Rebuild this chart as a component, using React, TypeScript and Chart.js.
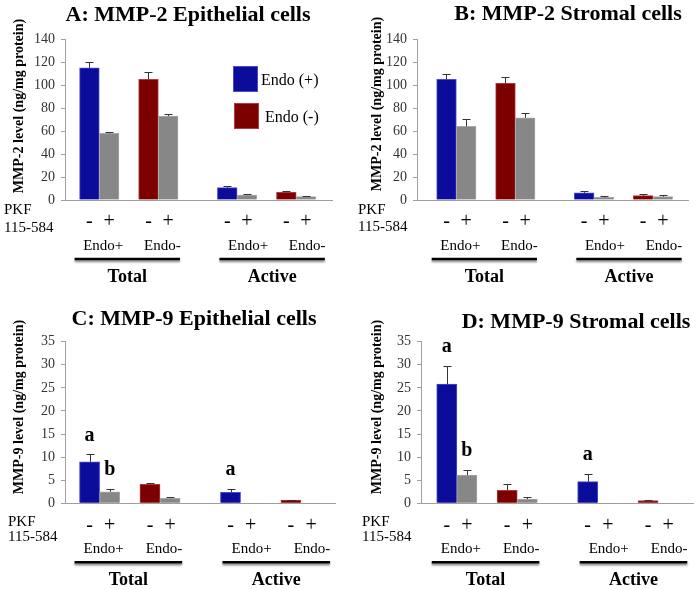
import React, { useEffect, useRef } from 'react';
import { Chart, registerables } from 'chart.js';

Chart.register(...registerables);

const SERIF = '"Liberation Serif", "Times New Roman", serif';

// ---- shared category structure ----
const sectionLabels = ['Total', 'Active'];
const groupLabels = ['Endo+', 'Endo-', 'Endo+', 'Endo-'];
const treatmentLabels = ['-', '+', '-', '+', '-', '+', '-', '+'];
const pkfLines = ['PKF', '115-584'];
const legendLabels = ['Endo (+)', 'Endo (-)'];

// ---- values (ng/mg protein) and upper error bars ----
const mmp2EpiValues = [115, 58, 105, 73, 10.7, 4.3, 6.7, 2.9];
const mmp2EpiErrors = [5, 1, 6.5, 1.5, 1.7, 0.6, 1.4, 0.9];
const mmp2StromaValues = [105, 64, 101.5, 71.5, 6.2, 2.3, 3.8, 2.9];
const mmp2StromaErrors = [5, 6.5, 5.5, 4.5, 1.5, 1.5, 1.4, 1.4];
const mmp9EpiValues = [9.0, 2.5, 4.1, 1.1, 2.4, 0, 0.7, 0];
const mmp9EpiErrors = [1.6, 0.6, 0.4, 0.2, 0.7, 0, 0.1, 0];
const mmp9StromaValues = [25.8, 6.1, 2.8, 0.9, 4.7, 0, 0.6, 0];
const mmp9StromaErrors = [3.9, 1.1, 1.4, 0.5, 1.6, 0, 0.15, 0];
const mmp9EpiLetters = ['a', 'b', '', '', 'a', '', '', ''];
const mmp9StromaLetters = ['a', 'b', '', '', 'a', '', '', ''];

// ---- styling / layout (not data) ----
const BLUE = '#0c0c9a';
const RED = '#7d0000';
const GRAY = '#878787';
const BLUE_EDGE = '#4a4ad0';
const RED_EDGE = '#b03a3a';
const GRAY_EDGE = '#a8a8a8';
const AXIS = '#a0a0a0';
const gapsBefore = [0, 0, 1, 0, 2, 0, 1, 0];

const barSlots: number[] = [];
{
  let s = -1;
  gapsBefore.forEach((g) => {
    s += g + 1;
    barSlots.push(s);
  });
}
const nSlots = barSlots[barSlots.length - 1] + 1;

type PanelCfg = {
  title: string;
  yTitle: string;
  values: number[];
  errors: number[];
  letters?: string[];
  yMax: number;
  yStep: number;
  box: { x: number; y: number; w: number; h: number };
  area: { left: number; right: number; top: number; bottom: number };
  padL: number;
  padR: number;
  titlePos: [number, number];
  yTitlePos: [number, number];
  pkfX: number;
  pkfY: [number, number];
  legend?: boolean;
};

const panels: PanelCfg[] = [
  {
    title: 'A: MMP-2 Epithelial cells',
    yTitle: 'MMP-2 level (ng/mg protein)',
    values: mmp2EpiValues,
    errors: mmp2EpiErrors,
    yMax: 140,
    yStep: 20,
    box: { x: 0, y: 0, w: 349, h: 290 },
    area: { left: 65, right: 332, top: 39, bottom: 200 },
    padL: 0.74,
    padR: 0.82,
    titlePos: [188, 15],
    yTitlePos: [19, 106],
    pkfX: 4,
    pkfY: [210, 228],
    legend: true,
  },
  {
    title: 'B: MMP-2 Stromal cells',
    yTitle: 'MMP-2 level (ng/mg protein)',
    values: mmp2StromaValues,
    errors: mmp2StromaErrors,
    yMax: 140,
    yStep: 20,
    box: { x: 349, y: 0, w: 349, h: 290 },
    area: { left: 68, right: 339, top: 39, bottom: 200 },
    padL: 1.0,
    padR: 0.78,
    titlePos: [219, 14],
    yTitlePos: [28, 104],
    pkfX: 9,
    pkfY: [210, 227],
  },
  {
    title: 'C: MMP-9 Epithelial cells',
    yTitle: 'MMP-9 level (ng/mg protein)',
    values: mmp9EpiValues,
    errors: mmp9EpiErrors,
    letters: mmp9EpiLetters,
    yMax: 35,
    yStep: 5,
    box: { x: 0, y: 290, w: 349, h: 300 },
    area: { left: 65, right: 335, top: 51.7, bottom: 213.3 },
    padL: 0.72,
    padR: 0.69,
    titlePos: [194, 29],
    yTitlePos: [19, 117],
    pkfX: 8,
    pkfY: [232, 247],
  },
  {
    title: 'D: MMP-9 Stromal cells',
    yTitle: 'MMP-9 level (ng/mg protein)',
    values: mmp9StromaValues,
    errors: mmp9StromaErrors,
    letters: mmp9StromaLetters,
    yMax: 35,
    yStep: 5,
    box: { x: 349, y: 290, w: 349, h: 300 },
    area: { left: 72, right: 344, top: 51.7, bottom: 213.3 },
    padL: 0.78,
    padR: 0.73,
    titlePos: [227, 32],
    yTitlePos: [28, 117],
    pkfX: 13,
    pkfY: [232, 247],
  },
];

function barColor(i: number) {
  if (treatmentLabels[i] === '+') return GRAY;
  return groupLabels[Math.floor(i / 2)] === 'Endo+' ? BLUE : RED;
}
function barEdge(i: number) {
  if (treatmentLabels[i] === '+') return GRAY_EDGE;
  return groupLabels[Math.floor(i / 2)] === 'Endo+' ? BLUE_EDGE : RED_EDGE;
}

function makePlugin(cfg: PanelCfg) {
  return {
    id: 'panelAnnot',
    afterDatasetsDraw(chart: any) {
      const ctx = chart.ctx;
      const xs = chart.scales.x;
      const ys = chart.scales.y;
      ctx.save();
      ctx.strokeStyle = '#333';
      ctx.lineWidth = 1;
      cfg.values.forEach((v, i) => {
        const e = cfg.errors[i];
        if (!e) return;
        const x = Math.round(xs.getPixelForValue(barSlots[i])) + 0.5;
        const y0 = ys.getPixelForValue(v);
        const y1 = Math.round(ys.getPixelForValue(v + e)) + 0.5;
        ctx.beginPath();
        ctx.moveTo(x, y0);
        ctx.lineTo(x, y1);
        ctx.moveTo(x - 4, y1);
        ctx.lineTo(x + 4, y1);
        ctx.stroke();
      });
      // significance letters
      if (cfg.letters) {
        ctx.fillStyle = '#000';
        ctx.font = `bold 20px ${SERIF}`;
        ctx.textAlign = 'center';
        ctx.textBaseline = 'middle';
        cfg.letters.forEach((l, i) => {
          if (!l) return;
          const x = xs.getPixelForValue(barSlots[i]);
          const y = ys.getPixelForValue(cfg.values[i] + cfg.errors[i]) - 19;
          ctx.fillText(l, x, y);
        });
      }
      ctx.restore();
    },
    afterDraw(chart: any) {
      const ctx = chart.ctx;
      const xs = chart.scales.x;
      const bottom = chart.chartArea.bottom;
      const slotW = xs.getPixelForValue(1) - xs.getPixelForValue(0);
      ctx.save();
      ctx.fillStyle = '#000';
      ctx.textAlign = 'center';
      ctx.textBaseline = 'middle';
      // title
      ctx.font = `bold 22px ${SERIF}`;
      ctx.fillText(cfg.title, cfg.titlePos[0], cfg.titlePos[1]);
      // y title
      ctx.save();
      ctx.translate(cfg.yTitlePos[0], cfg.yTitlePos[1]);
      ctx.rotate(-Math.PI / 2);
      ctx.font = `bold 14px ${SERIF}`;
      ctx.fillText(cfg.yTitle, 0, 0);
      ctx.restore();
      // PKF label
      ctx.textAlign = 'left';
      ctx.font = `15px ${SERIF}`;
      pkfLines.forEach((t, k) => ctx.fillText(t, cfg.pkfX, cfg.pkfY[k]));
      // - / + under each bar
      ctx.textAlign = 'center';
      ctx.font = `20px ${SERIF}`;
      treatmentLabels.forEach((t, i) => {
        ctx.fillText(t, xs.getPixelForValue(barSlots[i]), bottom + 22);
      });
      // group labels
      ctx.font = `15px ${SERIF}`;
      groupLabels.forEach((g, gi) => {
        const c = (xs.getPixelForValue(barSlots[gi * 2]) + xs.getPixelForValue(barSlots[gi * 2 + 1])) / 2;
        ctx.fillText(g, c + (gi < 2 ? 4 : 11), bottom + 46);
      });
      // section underline and labels
      sectionLabels.forEach((s, si) => {
        const first = barSlots[si * 4];
        const last = barSlots[si * 4 + 3];
        const l = xs.getPixelForValue(first) - slotW / 2 + (si === 0 ? -5 : 2);
        const r = xs.getPixelForValue(last) + slotW / 2 + (si === 0 ? 2 : 9);
        ctx.save();
        ctx.shadowColor = 'rgba(0,0,0,0.45)';
        ctx.shadowBlur = 2;
        ctx.shadowOffsetY = 2;
        ctx.strokeStyle = '#000';
        ctx.lineWidth = 2.5;
        ctx.beginPath();
        ctx.moveTo(l, bottom + 59);
        ctx.lineTo(r, bottom + 59);
        ctx.stroke();
        ctx.restore();
        ctx.font = `bold 18px ${SERIF}`;
        ctx.fillText(s, (l + r) / 2, bottom + 77);
      });
      // legend
      if (cfg.legend) {
        const items = [
          { label: legendLabels[0], fill: BLUE, edge: BLUE_EDGE, x: 233, y: 66, tx: 261 },
          { label: legendLabels[1], fill: RED, edge: RED_EDGE, x: 234, y: 103, tx: 265 },
        ];
        items.forEach((it) => {
          ctx.fillStyle = it.fill;
          ctx.fillRect(it.x, it.y, 25, 26);
          ctx.strokeStyle = it.edge;
          ctx.lineWidth = 1;
          ctx.strokeRect(it.x + 0.5, it.y + 0.5, 24, 25);
          ctx.fillStyle = '#000';
          ctx.textAlign = 'left';
          ctx.font = `16px ${SERIF}`;
          ctx.fillText(it.label, it.tx, it.y + 15);
        });
      }
      ctx.restore();
    },
  };
}

function buildChart(canvas: HTMLCanvasElement, cfg: PanelCfg) {
  const labels: string[] = [];
  const data: (number | null)[] = [];
  const colors: string[] = [];
  const edges: string[] = [];
  for (let s = 0; s < nSlots; s++) {
    labels.push('');
    data.push(null);
    colors.push(GRAY);
    edges.push(GRAY_EDGE);
  }
  barSlots.forEach((s, i) => {
    const sec = sectionLabels[Math.floor(i / 4)];
    labels[s] = `${sec} ${groupLabels[Math.floor(i / 2)]} ${treatmentLabels[i]}`;
    data[s] = cfg.values[i];
    colors[s] = barColor(i);
    edges[s] = barEdge(i);
  });
  const { area, box } = cfg;
  return new Chart(canvas, {
    type: 'bar',
    data: {
      labels,
      datasets: [
        {
          data,
          backgroundColor: colors,
          borderColor: edges,
          borderWidth: (c: any) => (c.raw ? 1 : 0),
          barPercentage: 1,
          categoryPercentage: 1,
        },
      ],
    },
    options: {
      responsive: false,
      animation: false,
      events: [],
      layout: {
        padding: { left: 0, top: area.top, right: box.w - area.right, bottom: box.h - area.bottom },
      },
      plugins: {
        legend: { display: false },
        tooltip: { enabled: false },
        title: { display: false },
      },
      scales: {
        x: {
          type: 'category',
          offset: false,
          grid: { display: false },
          border: { display: true, color: AXIS },
          ticks: { display: false },
          afterBuildTicks: (s: any) => {
            // slot centres: outer margins of padL / padR slots beyond the bar edges
            s._startValue = -(cfg.padL + 0.5);
            s._valueRange = nSlots + cfg.padL + cfg.padR;
          },
          afterFit: (s: any) => {
            s.height = 0;
          },
        },
        y: {
          min: 0,
          max: cfg.yMax,
          ticks: {
            stepSize: cfg.yStep,
            font: { family: SERIF, size: 14 },
            color: '#333',
            padding: 6,
          },
          grid: { drawOnChartArea: false, drawTicks: true, tickLength: 4, color: AXIS },
          border: { display: true, color: AXIS },
          afterFit: (s: any) => {
            s.width = area.left;
          },
        },
      },
    },
    plugins: [makePlugin(cfg)],
  } as any);
}

export default function App() {
  const refs = useRef<(HTMLCanvasElement | null)[]>([]);
  useEffect(() => {
    document.body.style.margin = '0';
    const charts = panels.map((p, i) => buildChart(refs.current[i] as HTMLCanvasElement, p));
    return () => charts.forEach((c) => c.destroy());
  }, []);
  return (
    <div style={{ position: 'relative', width: 698, height: 590, background: '#fff' }}>
      {panels.map((p, i) => (
        <canvas
          key={i}
          ref={(el) => {
            refs.current[i] = el;
          }}
          width={p.box.w}
          height={p.box.h}
          style={{ position: 'absolute', left: p.box.x, top: p.box.y, width: p.box.w, height: p.box.h }}
        />
      ))}
    </div>
  );
}
